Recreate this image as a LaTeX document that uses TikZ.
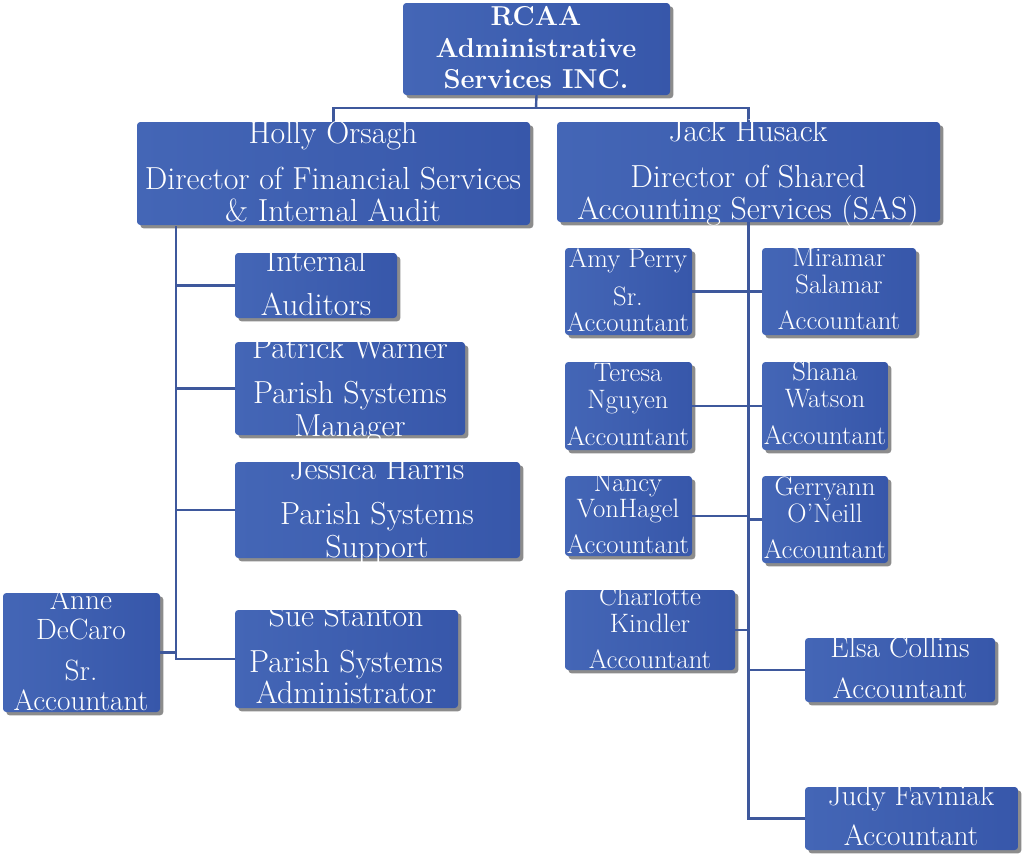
\documentclass[tikz,border=0pt]{standalone}
\usepackage{fontspec}
\usetikzlibrary{shadows}
\definecolor{boxblue}{RGB}{55,87,170}
\definecolor{boxlight}{RGB}{68,102,182}
\definecolor{linkblue}{RGB}{62,88,156}
\newcommand\fsz[1]{\fontsize{#1}{#1}\selectfont}
\begin{document}
\begin{tikzpicture}[x=0.75pt,y=-0.75pt,
  orgbox/.style n args={4}{at={({(#1+#3)/2},{(#2+#4)/2})},
    minimum width={(#3-#1)*0.75pt}, minimum height={(#4-#2)*0.75pt},
    inner sep=0pt, outer sep=0pt, rounded corners=2.5pt,
    left color=boxlight, right color=boxblue,
    drop shadow={shadow xshift=2.5pt, shadow yshift=-2.5pt, opacity=0.45, fill=black}},
  txtline/.style={anchor=base, text=white, inner sep=0pt},
  ttl/.style={txtline, font=\bfseries\fsz{20.5}},
  big/.style={txtline, font=\fsz{23.9}},
  mid/.style={txtline, font=\fsz{22}},
  sml/.style={txtline, font=\fsz{20}},
  link/.style={draw=linkblue, line width=1.8pt}
]
\useasboundingbox (0,0) rectangle (1023,857);

% coordinates for junctions
\coordinate (topj) at (536,108);
\coordinate (ls) at (176,226);

% boxes
\node[orgbox={403}{3}{670}{95}] (rcaa) {};
\node[orgbox={137}{122}{530}{225}] (holly) {};
\node[orgbox={557}{122}{940}{222}] (jack) {};
\node[orgbox={235}{253}{397}{318}] (ia) {};
\node[orgbox={235}{342}{465}{435}] (pw) {};
\node[orgbox={235}{462}{520}{558}] (jh) {};
\node[orgbox={235}{610}{458}{708}] (ss) {};
\node[orgbox={3}{593}{160}{712}] (ad) {};
\node[orgbox={565}{248}{692}{335}] (ap) {};
\node[orgbox={762}{248}{916}{335}] (ms) {};
\node[orgbox={565}{362}{692}{450}] (tn) {};
\node[orgbox={762}{362}{888}{450}] (sw) {};
\node[orgbox={565}{476}{692}{556}] (nv) {};
\node[orgbox={762}{476}{888}{563}] (go) {};
\node[orgbox={565}{590}{735}{670}] (ck) {};
\node[orgbox={805}{638}{995}{702}] (ec) {};
\node[orgbox={805}{787}{1018}{850}] (jf) {};

% connectors
\draw[link] (rcaa.south) -- (topj);
\draw[link] (holly.north) |- (topj) -| (jack.north);
\draw[link] (ls) |- (ss.west);
\draw[link] (ia.west) -- (ia.west -| ls);
\draw[link] (pw.west) -- (pw.west -| ls);
\draw[link] (jh.west) -- (jh.west -| ls);
\draw[link] (ad.east) -- (ad.east -| ls);
\draw[link] (jack.south) |- (jf.west);
\draw[link] (ap.east) -- (ms.west);
\draw[link] (tn.east) -- (sw.west);
\draw[link] (nv.east) -- (nv.east -| jack.south);
\draw[link] (go.west) -- (go.west -| jack.south);
\draw[link] (ck.east) -- (ck.east -| jack.south);
\draw[link] (ec.west) -- (ec.west -| jack.south);

% texts
\node[ttl] (t1) at (536,25) {RCAA};
\node[ttl] (t2) at (536,57) {Administrative};
\node[ttl] (t3) at (536,88) {Services INC.};

\node[big] (h1) at (333,143) {Holly Orsagh};
\node[big] (h2) at (333,189) {Director of Financial Services};
\node[big] (h3) at (333,221) {\& Internal Audit};

\node[big] (j1) at (748,141) {Jack Husack};
\node[big] (j2) at (748,187) {Director of Shared};
\node[big] (j3) at (748,219) {Accounting Services (SAS)};

\node[big] (ia1) at (316,271) {Internal};
\node[big] (ia2) at (316,315) {Auditors};

\node[big] (pw1) at (350,358) {Patrick Warner};
\node[big] (pw2) at (350,403) {Parish Systems};
\node[big] (pw3) at (350,436) {Manager};

\node[big] (jh1) at (377,479) {Jessica Harris};
\node[big] (jh2) at (377,524) {Parish Systems};
\node[big] (jh3) at (377,557) {Support};

\node[big] (ss1) at (346,626) {Sue Stanton};
\node[big] (ss2) at (346,672) {Parish Systems};
\node[big] (ss3) at (346,703) {Administrator};

\node[mid] (ad1) at (81,609) {Anne};
\node[mid] (ad2) at (81,639) {DeCaro};
\node[mid] (ad3) at (81,680) {Sr.};
\node[mid] (ad4) at (81,710) {Accountant};

\node[sml] (ap1) at (628,267) {Amy Perry};
\node[sml] (ap2) at (628,305) {Sr.};
\node[sml] (ap3) at (628,331) {Accountant};

\node[sml] (ms1) at (839,266) {Miramar};
\node[sml] (ms2) at (839,293) {Salamar};
\node[sml] (ms3) at (839,329) {Accountant};

\node[sml] (tn1) at (628,381) {Teresa};
\node[sml] (tn2) at (628,408) {Nguyen};
\node[sml] (tn3) at (628,445) {Accountant};

\node[sml] (sw1) at (825,380) {Shana};
\node[sml] (sw2) at (825,407) {Watson};
\node[sml] (sw3) at (825,444) {Accountant};

\node[sml] (nv1) at (628,491) {Nancy};
\node[sml] (nv2) at (628,517) {VonHagel};
\node[sml] (nv3) at (628,553) {Accountant};

\node[sml] (go1) at (825,495) {Gerryann};
\node[sml] (go2) at (825,522) {O’Neill};
\node[sml] (go3) at (825,558) {Accountant};

\node[sml] (ck1) at (650,605) {Charlotte};
\node[sml] (ck2) at (650,632) {Kindler};
\node[sml] (ck3) at (650,668) {Accountant};

\node[mid] (ec1) at (900,657) {Elsa Collins};
\node[mid] (ec2) at (900,698) {Accountant};

\node[mid] (jf1) at (911,805) {Judy Faviniak};
\node[mid] (jf2) at (911,845) {Accountant};
\end{tikzpicture}
\end{document}
